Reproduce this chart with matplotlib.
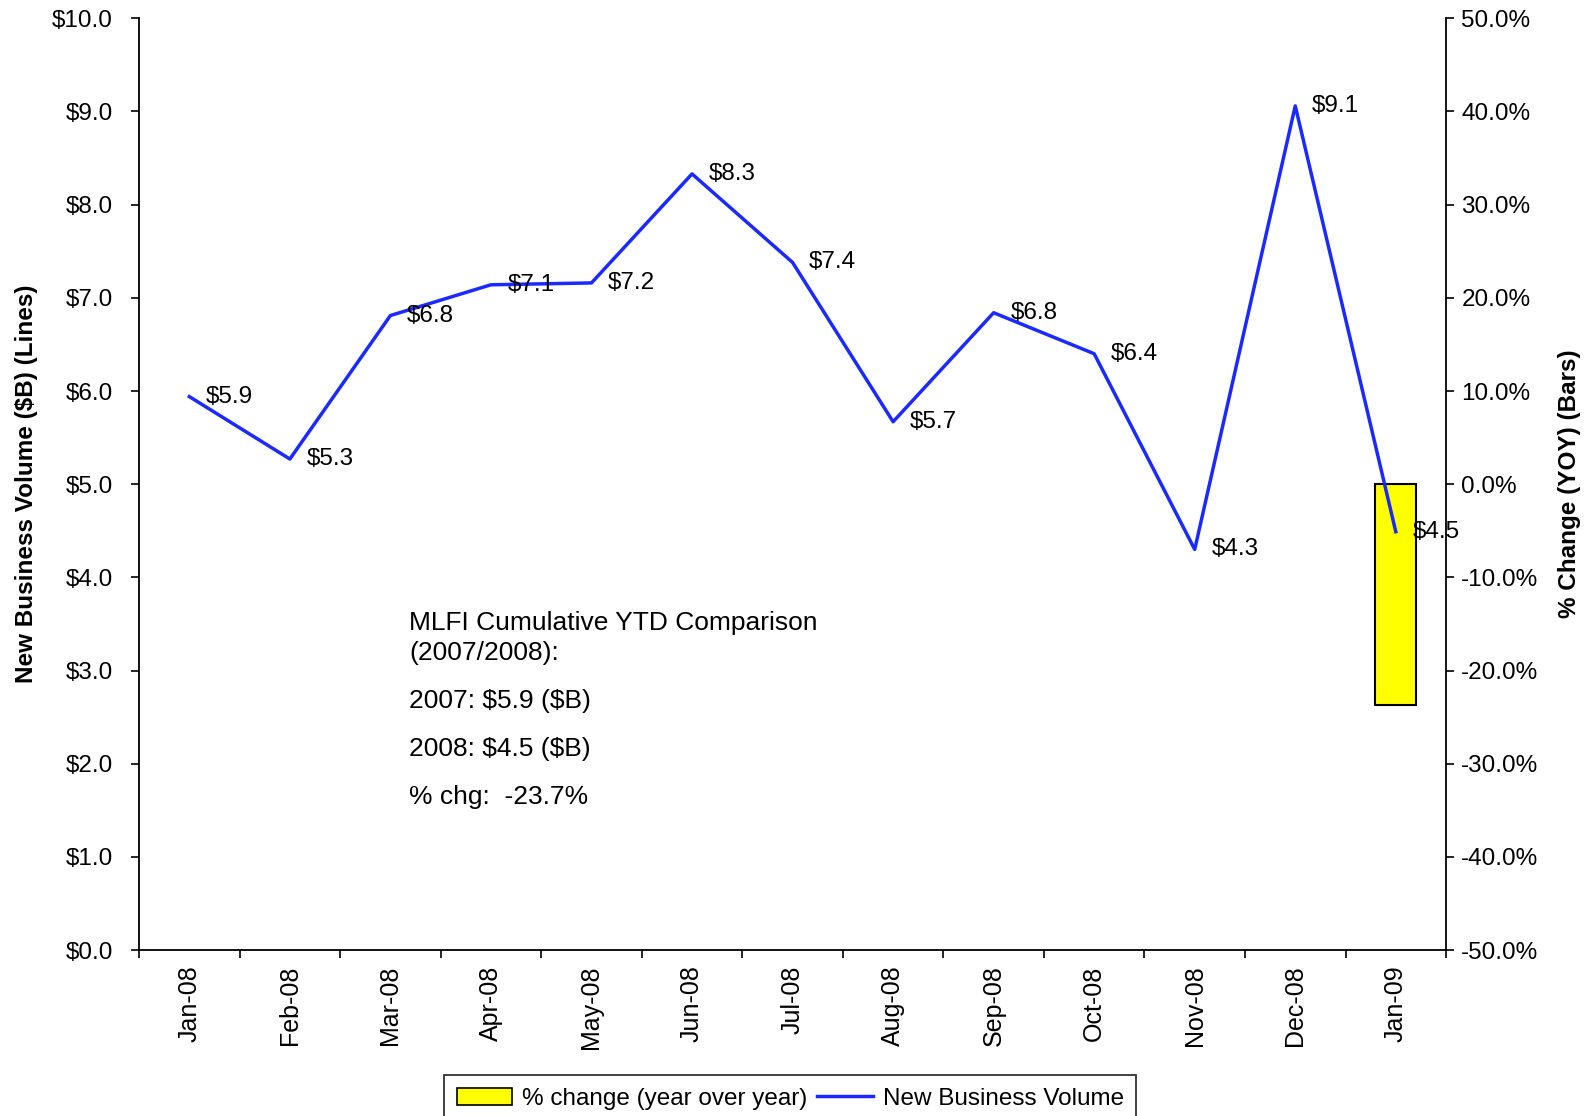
import numpy as np
import matplotlib.pyplot as plt
from matplotlib.patches import Patch
from matplotlib.lines import Line2D

plt.rcParams['font.family'] = ['Liberation Sans', 'DejaVu Sans']

# Data
months = ['Jan-08', 'Feb-08', 'Mar-08', 'Apr-08', 'May-08', 'Jun-08', 'Jul-08',
          'Aug-08', 'Sep-08', 'Oct-08', 'Nov-08', 'Dec-08', 'Jan-09']
volume = [5.94, 5.27, 6.81, 7.14, 7.16, 8.33, 7.38, 5.67, 6.84, 6.40, 4.30, 9.06, 4.49]
pct_change = [np.nan] * 12 + [-23.7]
note_lines = ['MLFI Cumulative YTD Comparison\n(2007/2008):',
              '2007: $5.9 ($B)', '2008: $4.5 ($B)', '% chg:  -23.7%']

x = np.arange(len(months))
line_color = '#1a2aff'

fig, ax = plt.subplots(figsize=(15.91, 11.16), dpi=100)
fig.subplots_adjust(left=0.0874, right=0.9089, top=0.9836, bottom=0.1487)
ax2 = ax.twinx()

# bars on the right axis, line drawn over them
ax2.bar(x, pct_change, width=0.41, color='#FFFF00', edgecolor='black', linewidth=1.5, zorder=1)
ax2.set_ylim(-50, 50)
ax2.set_yticks(np.arange(-50, 51, 10))
ax2.set_yticklabels(['%.1f%%' % v for v in np.arange(-50, 51, 10)], fontsize=17.5)
ax2.set_ylabel('% Change (YOY) (Bars)', fontsize=17.5, fontweight='bold', labelpad=14)

ax.set_zorder(ax2.get_zorder() + 1)
ax.patch.set_visible(False)
ax.plot(x, volume, color=line_color, linewidth=2.5)
for xi, v in zip(x, volume):
    ax.annotate('$%.1f' % v, (xi, v), xytext=(12, 0), textcoords='offset points',
                va='center', ha='left', fontsize=17.5, parse_math=False)

ax.set_ylim(0, 10)
ax.set_yticks(np.arange(0, 10.1, 1))
ax.set_yticklabels(['$%.1f' % v for v in np.arange(0, 10.1, 1)], fontsize=17.5)
ax.set_ylabel('New Business Volume ($B) (Lines)', fontsize=17.5, fontweight='bold', labelpad=10)

ax.set_xlim(-0.5, len(months) - 0.5)
ax.set_xticks(np.arange(-0.5, len(months), 1))
ax.set_xticklabels([])
ax.set_xticks(x, minor=True)
ax.set_xticklabels(months, minor=True, rotation=90, fontsize=18)
ax.tick_params(axis='x', which='major', length=6, width=1.2, direction='out')
ax.tick_params(axis='x', which='minor', length=0, pad=11)
ax.tick_params(axis='y', length=6, width=1.2, pad=13)
ax2.tick_params(axis='y', length=6, width=1.2, pad=5)

for a in (ax, ax2):
    a.spines['top'].set_visible(False)
    for s in a.spines.values():
        s.set_linewidth(1.3)
ax.spines['right'].set_visible(False)
ax2.spines['left'].set_visible(False)
ax2.spines['bottom'].set_visible(False)

ys = [0.335, 0.267, 0.2157, 0.1645]
for y, t in zip(ys, note_lines):
    ax.text(0.2065, y, t, transform=ax.transAxes, fontsize=19, va='center', ha='left',
            linespacing=1.35, parse_math=False)

handles = [Patch(facecolor='#FFFF00', edgecolor='black', linewidth=1.2),
           Line2D([0], [0], color=line_color, linewidth=2.5)]
leg = fig.legend(handles, ['% change (year over year)', 'New Business Volume'],
                 loc='upper center', bbox_to_anchor=(0.4967, 0.0363), ncol=2,
                 fontsize=17.5, frameon=True, fancybox=False, edgecolor='black',
                 handlelength=2.3, columnspacing=0.4, handletextpad=0.4,
                 borderpad=0.5, borderaxespad=0)
leg.get_frame().set_linewidth(1.3)

fig.savefig('out.png', dpi=100)
